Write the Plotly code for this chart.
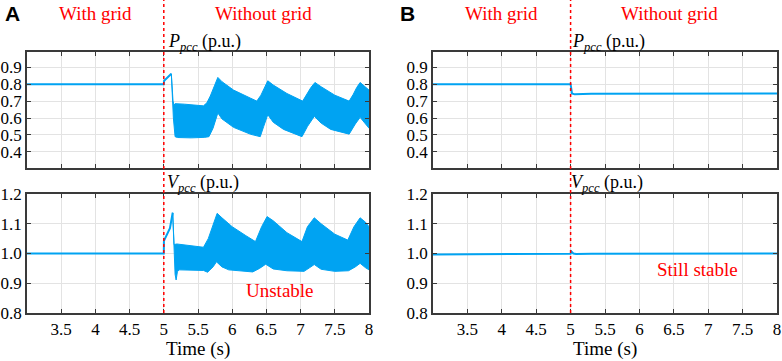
import plotly.graph_objects as go
from plotly.subplots import make_subplots

# ---------------- data ----------------
# Panel A, P_pcc : steady line + transient, then oscillation band (upper/lower envelopes)
a_p_line_t = [3.0, 5.0, 5.005, 5.11]
a_p_line_v = [0.80, 0.80, 0.82, 0.862]
a_p_up_t = [5.11, 5.135, 5.15, 5.165, 5.3, 5.45, 5.58, 5.63, 5.68, 5.74, 5.79, 5.85, 6.02, 6.27, 6.36,
            6.42, 6.47, 6.52, 6.6, 6.8, 7.03, 7.09, 7.15, 7.21, 7.3, 7.5, 7.71, 7.77, 7.82, 7.87, 7.95, 8.0]
a_p_up_v = [0.862, 0.70, 0.675, 0.685, 0.682, 0.678, 0.672, 0.69, 0.73, 0.79, 0.84, 0.815, 0.765, 0.717, 0.70,
            0.735, 0.78, 0.82, 0.795, 0.745, 0.70, 0.74, 0.78, 0.81, 0.785, 0.735, 0.70, 0.74, 0.78, 0.81, 0.78, 0.765]
a_p_lo_t = [5.11, 5.14, 5.165, 5.2, 5.4, 5.6, 5.66, 5.72, 5.79, 5.85, 6.02, 6.27, 6.41, 6.46, 6.52, 6.6, 6.75,
            7.02, 7.1, 7.2, 7.3, 7.44, 7.71, 7.8, 7.87, 7.95, 8.0]
a_p_lo_v = [0.862, 0.60, 0.49, 0.485, 0.483, 0.486, 0.49, 0.54, 0.63, 0.595, 0.545, 0.504, 0.49, 0.55, 0.62, 0.575, 0.533,
            0.49, 0.55, 0.61, 0.57, 0.533, 0.505, 0.565, 0.604, 0.565, 0.54]

# Panel A, V_pcc
a_v_line_t = [3.0, 5.0, 5.002, 5.09, 5.13]
a_v_line_v = [1.0, 1.0, 1.043, 1.085, 1.137]
a_v_up_t = [5.13, 5.15, 5.19, 5.4, 5.58, 5.65, 5.72, 5.78, 5.85, 6.0, 6.2, 6.34, 6.43, 6.51, 6.6, 6.8, 7.02,
            7.1, 7.2, 7.3, 7.5, 7.69, 7.78, 7.87, 7.95, 8.0]
a_v_up_v = [1.137, 1.03, 1.032, 1.026, 1.021, 1.05, 1.10, 1.135, 1.12, 1.09, 1.06, 1.04, 1.09, 1.124, 1.11, 1.07, 1.04,
            1.09, 1.12, 1.10, 1.065, 1.045, 1.09, 1.12, 1.105, 1.09]
a_v_lo_t = [5.13, 5.15, 5.165, 5.18, 5.2, 5.23, 5.4, 5.58, 5.64, 5.72, 5.77, 5.85, 5.95, 6.2, 6.3, 6.4, 6.49,
            6.6, 6.8, 7.05, 7.13, 7.2, 7.3, 7.5, 7.7, 7.8, 7.87, 7.95, 8.0]
a_v_lo_v = [1.137, 1.02, 0.93, 0.911, 0.94, 0.945, 0.944, 0.943, 0.937, 0.955, 0.972, 0.955, 0.945, 0.94, 0.938, 0.95, 0.964,
            0.948, 0.942, 0.94, 0.952, 0.963, 0.947, 0.94, 0.942, 0.955, 0.967, 0.952, 0.945]

# Panel B
b_p_t = [3.0, 5.0, 5.02, 5.06, 5.3, 8.0]
b_p_v = [0.80, 0.80, 0.745, 0.740, 0.744, 0.745]
b_v_t = [3.0, 3.5, 4.5, 5.0, 5.01, 5.04, 5.08, 5.3, 8.0]
b_v_v = [0.997, 0.998, 0.999, 0.999, 1.007, 1.0, 0.998, 0.999, 1.0]

x_ticks = [3.5, 4, 4.5, 5, 5.5, 6, 6.5, 7, 7.5, 8]
x_tick_text = ["3.5", "4", "4.5", "5", "5.5", "6", "6.5", "7", "7.5", "8"]
p_ticks = [0.4, 0.5, 0.6, 0.7, 0.8, 0.9]
v_ticks = [0.8, 0.9, 1.0, 1.1, 1.2]

BLUE = "#00A3F2"
RED = "#FF0000"
SERIF = "Liberation Serif, Times New Roman, serif"
W, H = 782, 361

fig = make_subplots(rows=2, cols=2)

def band(up_t, up_v, lo_t, lo_v):
    return go.Scatter(x=list(up_t) + list(lo_t)[::-1], y=list(up_v) + list(lo_v)[::-1],
                      fill="toself", fillcolor=BLUE, mode="lines",
                      line=dict(color=BLUE, width=1), hoverinfo="skip", showlegend=False)

def line(t, v):
    return go.Scatter(x=t, y=v, mode="lines", line=dict(color=BLUE, width=2), showlegend=False)

fig.add_trace(line(a_p_line_t, a_p_line_v), row=1, col=1)
fig.add_trace(band(a_p_up_t, a_p_up_v, a_p_lo_t, a_p_lo_v), row=1, col=1)
fig.add_trace(line(a_v_line_t, a_v_line_v), row=2, col=1)
fig.add_trace(band(a_v_up_t, a_v_up_v, a_v_lo_t, a_v_lo_v), row=2, col=1)
fig.add_trace(line(b_p_t, b_p_v), row=1, col=2)
fig.add_trace(line(b_v_t, b_v_v), row=2, col=2)

def px_x(p):
    return p / W

def px_y(p):
    return 1 - p / H

dom_xa = [px_x(27), px_x(369)]
dom_xb = [px_x(433), px_x(777)]
dom_top = [px_y(168), px_y(52)]
dom_bot = [px_y(313), px_y(194)]

axis_common = dict(showline=True, linecolor="#3A3A3A", linewidth=1.5, mirror="ticks",
                   ticks="inside", ticklen=4, tickcolor="#3A3A3A", automargin=False,
                   showgrid=True, gridcolor="#E3E3E3", gridwidth=1, zeroline=False,
                   tickfont=dict(family=SERIF, size=17, color="black"))

for xa, dom, show in [("xaxis", dom_xa, False), ("xaxis2", dom_xb, False),
                      ("xaxis3", dom_xa, True), ("xaxis4", dom_xb, True)]:
    fig.layout[xa].update(domain=dom, range=[3, 8], tickvals=x_ticks, ticktext=x_tick_text,
                          showticklabels=show, **axis_common)
for ya, dom, rng, tv in [("yaxis", dom_top, [0.305, 0.99], p_ticks), ("yaxis2", dom_top, [0.305, 0.99], p_ticks),
                         ("yaxis3", dom_bot, [0.8, 1.2], v_ticks), ("yaxis4", dom_bot, [0.8, 1.2], v_ticks)]:
    fig.layout[ya].update(domain=dom, range=rng, tickvals=tv, tickformat=".1f", **axis_common)

# red dotted switching lines
for xr in ["x", "x2"]:
    fig.add_shape(type="line", xref=xr, yref="paper", x0=5, x1=5, y0=px_y(313), y1=1.0,
                  line=dict(color=RED, width=1.5, dash="dot"), layer="above")

ann = []
def txt(x, y, s, size=18, color=RED, family=SERIF, xanchor="center"):
    ann.append(dict(x=px_x(x), y=px_y(y), xref="paper", yref="paper", text=s, showarrow=False,
                    xanchor=xanchor, yanchor="middle", font=dict(family=family, size=size, color=color)))

txt(3, 14, "<b>A</b>", size=21, color="black", family="Liberation Sans, Arial, sans-serif", xanchor="left")
txt(398, 14, "<b>B</b>", size=21, color="black", family="Liberation Sans, Arial, sans-serif", xanchor="left")
txt(95, 14, "With grid", size=19)
txt(263, 14, "Without grid", size=19)
txt(501, 14, "With grid", size=19)
txt(669, 14, "Without grid", size=19)
txt(166, 42, "<i>P</i><sub><i>pcc</i></sub> (p.u.)", size=18, color="black", xanchor="left")
txt(570, 42, "<i>P</i><sub><i>pcc</i></sub> (p.u.)", size=18, color="black", xanchor="left")
txt(165, 183, "<i>V</i><sub><i>pcc</i></sub> (p.u.)", size=18, color="black", xanchor="left")
txt(569, 183, "<i>V</i><sub><i>pcc</i></sub> (p.u.)", size=18, color="black", xanchor="left")
txt(198, 349, "Time (s)", size=19, color="black")
txt(605, 349, "Time (s)", size=19, color="black")
# in-plot labels placed in data coordinates
ann.append(dict(x=6.7, y=0.874, xref="x3", yref="y3", text="Unstable", showarrow=False,
                font=dict(family=SERIF, size=19, color=RED)))
ann.append(dict(x=6.84, y=0.945, xref="x4", yref="y4", text="Still stable", showarrow=False,
                font=dict(family=SERIF, size=19, color=RED)))

fig.update_layout(width=W, height=H, margin=dict(l=0, r=0, t=0, b=0, autoexpand=False),
                  font=dict(family=SERIF, size=17, color="black"),
                  paper_bgcolor="white", plot_bgcolor="white", annotations=ann, showlegend=False)

fig.write_html("out.html", config={"displayModeBar": False},
               post_script="document.body.style.margin='0';document.body.style.overflow='hidden';")
